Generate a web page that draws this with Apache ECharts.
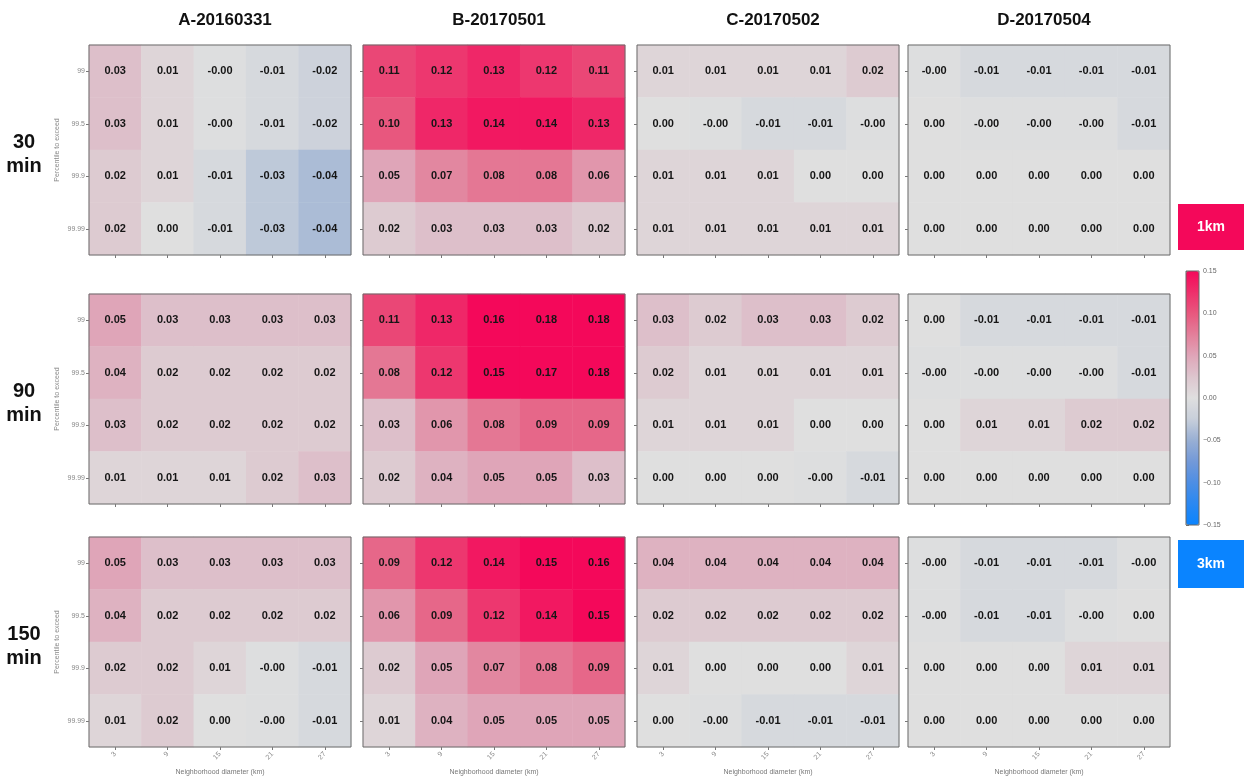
<!DOCTYPE html>
<html>
<head>
<meta charset="utf-8">
<script src="https://cdn.jsdelivr.net/npm/echarts@6/dist/echarts.min.js"></script>
<style>
  html, body { margin: 0; padding: 0; background: #fff; }
  #chart { width: 1246px; height: 780px; }
</style>
</head>
<body>
<div id="chart"></div>
<script>
// Axis categories
const diameters = ['3', '9', '15', '21', '27'];
const percentiles = ['99', '99.5', '99.9', '99.99'];
const events = ['A-20160331', 'B-20170501', 'C-20170502', 'D-20170504'];
const leadTimes = ['30\nmin', '90\nmin', '150\nmin'];
const colorbarTicks = [-0.15, -0.10, -0.05, 0.00, 0.05, 0.10, 0.15];

// Score differences, rows = percentile (99 .. 99.99), columns = diameter (3 .. 27 km)
// (-0.002 marks a small negative value that rounds to -0.00)
const a30 = [[0.03, 0.01, -0.002, -0.01, -0.02], [0.03, 0.01, -0.002, -0.01, -0.02], [0.02, 0.01, -0.01, -0.03, -0.04], [0.02, 0.00, -0.01, -0.03, -0.04]];
const b30 = [[0.11, 0.12, 0.13, 0.12, 0.11], [0.10, 0.13, 0.14, 0.14, 0.13], [0.05, 0.07, 0.08, 0.08, 0.06], [0.02, 0.03, 0.03, 0.03, 0.02]];
const c30 = [[0.01, 0.01, 0.01, 0.01, 0.02], [0.00, -0.002, -0.01, -0.01, -0.002], [0.01, 0.01, 0.01, 0.00, 0.00], [0.01, 0.01, 0.01, 0.01, 0.01]];
const d30 = [[-0.002, -0.01, -0.01, -0.01, -0.01], [0.00, -0.002, -0.002, -0.002, -0.01], [0.00, 0.00, 0.00, 0.00, 0.00], [0.00, 0.00, 0.00, 0.00, 0.00]];

const a90 = [[0.05, 0.03, 0.03, 0.03, 0.03], [0.04, 0.02, 0.02, 0.02, 0.02], [0.03, 0.02, 0.02, 0.02, 0.02], [0.01, 0.01, 0.01, 0.02, 0.03]];
const b90 = [[0.11, 0.13, 0.16, 0.18, 0.18], [0.08, 0.12, 0.15, 0.17, 0.18], [0.03, 0.06, 0.08, 0.09, 0.09], [0.02, 0.04, 0.05, 0.05, 0.03]];
const c90 = [[0.03, 0.02, 0.03, 0.03, 0.02], [0.02, 0.01, 0.01, 0.01, 0.01], [0.01, 0.01, 0.01, 0.00, 0.00], [0.00, 0.00, 0.00, -0.002, -0.01]];
const d90 = [[0.00, -0.01, -0.01, -0.01, -0.01], [-0.002, -0.002, -0.002, -0.002, -0.01], [0.00, 0.01, 0.01, 0.02, 0.02], [0.00, 0.00, 0.00, 0.00, 0.00]];

const a150 = [[0.05, 0.03, 0.03, 0.03, 0.03], [0.04, 0.02, 0.02, 0.02, 0.02], [0.02, 0.02, 0.01, -0.002, -0.01], [0.01, 0.02, 0.00, -0.002, -0.01]];
const b150 = [[0.09, 0.12, 0.14, 0.15, 0.16], [0.06, 0.09, 0.12, 0.14, 0.15], [0.02, 0.05, 0.07, 0.08, 0.09], [0.01, 0.04, 0.05, 0.05, 0.05]];
const c150 = [[0.04, 0.04, 0.04, 0.04, 0.04], [0.02, 0.02, 0.02, 0.02, 0.02], [0.01, 0.00, 0.00, 0.00, 0.01], [0.00, -0.002, -0.01, -0.01, -0.01]];
const d150 = [[-0.002, -0.01, -0.01, -0.01, -0.002], [-0.002, -0.01, -0.01, -0.002, 0.00], [0.00, 0.00, 0.00, 0.01, 0.01], [0.00, 0.00, 0.00, 0.00, 0.00]];

const panels = [
  [a30, b30, c30, d30],
  [a90, b90, c90, d90],
  [a150, b150, c150, d150]
];

// Layout
const colLeft = [89, 363, 637, 908];
const rowTop = [45, 294, 537];
const panelW = 262;
const panelH = 210;
const FONT = '"Liberation Sans", Arial, Helvetica, sans-serif';

const grids = [], xAxes = [], yAxes = [], series = [];
panels.forEach((row, r) => {
  row.forEach((vals, c) => {
    const idx = grids.length;
    grids.push({
      left: colLeft[c], top: rowTop[r], width: panelW, height: panelH,
      show: true, backgroundColor: 'transparent',
      borderColor: '#6a6a6a', borderWidth: 1, z: 3
    });
    xAxes.push({
      type: 'category', gridIndex: idx, data: diameters,
      axisLine: { show: false },
      axisTick: { show: true, alignWithLabel: true, length: 3, lineStyle: { color: '#777' } },
      axisLabel: { show: r === 2, rotate: 45, fontSize: 7, color: '#888', margin: 6, fontFamily: FONT },
      name: r === 2 ? 'Neighborhood diameter (km)' : '',
      nameLocation: 'middle', nameGap: 22,
      nameTextStyle: { fontSize: 7, color: '#777', fontFamily: FONT },
      splitLine: { show: false }
    });
    yAxes.push({
      type: 'category', gridIndex: idx, data: percentiles, inverse: true,
      axisLine: { show: false },
      axisTick: { show: true, alignWithLabel: true, length: 3, lineStyle: { color: '#777' } },
      axisLabel: { show: c === 0, fontSize: 7, color: '#888', margin: 4, fontFamily: FONT },
      name: c === 0 ? 'Percentile to exceed' : '',
      nameLocation: 'middle', nameGap: 28,
      nameTextStyle: { fontSize: 7, color: '#888', fontFamily: FONT },
      splitLine: { show: false }
    });
    const data = [];
    vals.forEach((line, yi) => line.forEach((v, xi) => data.push([xi, yi, v])));
    series.push({
      type: 'heatmap', xAxisIndex: idx, yAxisIndex: idx, data: data,
      label: {
        show: true, fontSize: 11, fontWeight: 'bold', color: '#151515', fontFamily: FONT,
        formatter: p => p.value[2].toFixed(2)
      },
      emphasis: { disabled: true },
      itemStyle: { borderWidth: 0 }
    });
  });
});

// Colour bar axis
const cbIdx = grids.length;
grids.push({ left: 1186, top: 271, width: 13, height: 254, show: true, backgroundColor: 'transparent', borderColor: '#666', borderWidth: 1, z: 6 });
xAxes.push({ type: 'value', gridIndex: cbIdx, show: false, min: 0, max: 1 });
yAxes.push({
  type: 'value', gridIndex: cbIdx, position: 'right',
  min: colorbarTicks[0], max: colorbarTicks[colorbarTicks.length - 1], interval: 0.05,
  axisLine: { show: false },
  axisTick: { show: true, length: 3, lineStyle: { color: '#777' } },
  axisLabel: {
    fontSize: 7, color: '#666', margin: 4, fontFamily: FONT,
    formatter: v => (v < -1e-9 ? '\u2212' + Math.abs(v).toFixed(2) : Math.abs(v).toFixed(2))
  },
  splitLine: { show: false }
});

const titles = events.map((t, i) => ({
  text: t, left: colLeft[i] + panelW / 2, top: 7, textAlign: 'center',
  textStyle: { fontSize: 17, fontWeight: 'bold', color: '#111', fontFamily: FONT }
}));
leadTimes.forEach((t, i) => titles.push({
  text: t, left: 19, top: rowTop[i] + panelH / 2 - 25, textAlign: 'center',
  textStyle: { fontSize: 20, fontWeight: 'bold', color: '#111', lineHeight: 24, fontFamily: FONT, align: 'center' }
}));

const option = {
  backgroundColor: '#ffffff',
  animation: false,
  title: titles,
  grid: grids,
  xAxis: xAxes,
  yAxis: yAxes,
  visualMap: {
    type: 'continuous', min: -0.15, max: 0.15, calculable: false,
    orient: 'vertical', left: 1186, top: 271, itemWidth: 13, itemHeight: 254,
    padding: 0, text: null, hoverLink: false,
    seriesIndex: series.map((s, i) => i),
    inRange: {
      color: ['#0a84ff', '#2a88f2', '#4d8ee4', '#7399d8', '#98afd4', '#c8cfda', '#dfdfdf',
              '#ddc6ce', '#dfa5b8', '#e37f9a', '#e8577e', '#ee2f6b', '#f4085a']
    }
  },
  graphic: [
    {
      type: 'group', left: 1178, top: 204, children: [
        { type: 'rect', shape: { x: 0, y: 0, width: 66, height: 46 }, style: { fill: '#f4085a' } },
        { type: 'text', x: 33, y: 23, style: { text: '1km', fill: '#fff', font: 'bold 14px ' + FONT, align: 'center', verticalAlign: 'middle' } }
      ]
    },
    {
      type: 'group', left: 1178, top: 540, children: [
        { type: 'rect', shape: { x: 0, y: 0, width: 66, height: 48 }, style: { fill: '#0a84ff' } },
        { type: 'text', x: 33, y: 24, style: { text: '3km', fill: '#fff', font: 'bold 14px ' + FONT, align: 'center', verticalAlign: 'middle' } }
      ]
    }
  ],
  series: series
};

const chart = echarts.init(document.getElementById('chart'), null, { renderer: 'canvas' });
chart.setOption(option);
</script>
</body>
</html>
